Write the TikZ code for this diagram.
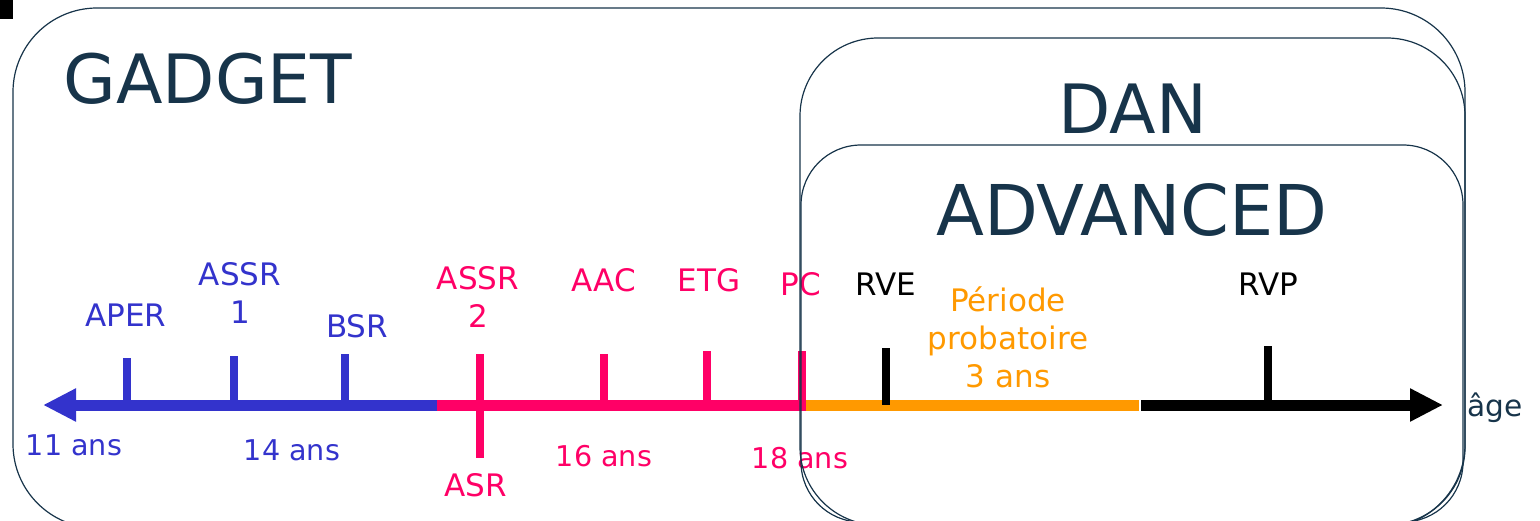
\documentclass[tikz,border=0pt]{standalone}
\usepackage{fontspec}
\setmainfont{DejaVu Sans}
\usetikzlibrary{arrows.meta}
\definecolor{gadgetblue}{HTML}{3333CC}
\definecolor{gadgetpink}{HTML}{FF0066}
\definecolor{gadgetorange}{HTML}{FF9900}
\definecolor{gadgetnavy}{HTML}{17344A}
\tikzset{agetip/.tip={Triangle[length=16.5pt, width=15.5pt]}}

\begin{document}
\begin{tikzpicture}[x=0.5pt, y=-0.5pt,
    box/.style={draw=gadgetnavy, line width=0.6pt, rounded corners=#1},
    title/.style={text=gadgetnavy, inner sep=0pt, font=\fontsize{#1}{40}\selectfont},
    title/.default=34,
    lbl/.style={text=#1, inner sep=0pt, align=center, font=\fontsize{15.5}{19}\selectfont},
    agelbl/.style={text=#1, inner sep=0pt, font=\fontsize{14.3}{17}\selectfont},
    axis/.style={draw=#1, line width=5.5pt},
    tick/.style={draw=#1, line width=4pt}
  ]
  \useasboundingbox (0,0) rectangle (1540,520);
  \clip (0,0) rectangle (1540,520);

  % stray mark top left
  \fill (0,0) rectangle (13,19);

  % the age axis
  \coordinate (tipL) at (43,405);
  \coordinate (m1) at (437,405);
  \coordinate (m2) at (806,405);
  \coordinate (m3) at (1139,405);
  \coordinate (m4) at (1141,405);
  \coordinate (tipR) at (1443,405);
  \draw[axis=gadgetblue, {agetip}-] (tipL) -- (m1);
  \draw[axis=gadgetpink] (m1) -- (m2);
  \draw[axis=gadgetorange] (m2) -- (m3);
  \draw[axis=black, -{agetip}] (m4) -- (tipR);

  % ticks
  \coordinate (aper-t) at (127,358);
  \coordinate (assr1-t) at (234,356);
  \coordinate (bsr-t) at (345,354);
  \coordinate (assr2-t) at (480,354);
  \coordinate (asr-b) at (480,458);
  \coordinate (aac-t) at (604,354);
  \coordinate (etg-t) at (707,351);
  \coordinate (pc-t) at (802,351);
  \coordinate (rve-t) at (886,348);
  \coordinate (rvp-t) at (1268,346);
  \draw[tick=gadgetblue] (aper-t) -- (aper-t |- m1);
  \draw[tick=gadgetblue] (assr1-t) -- (assr1-t |- m1);
  \draw[tick=gadgetblue] (bsr-t) -- (bsr-t |- m1);
  \draw[tick=gadgetpink] (assr2-t) -- (asr-b);
  \draw[tick=gadgetpink] (aac-t) -- (aac-t |- m1);
  \draw[tick=gadgetpink] (etg-t) -- (etg-t |- m1);
  \draw[tick=gadgetpink] (pc-t) -- (pc-t |- m1);
  \draw[tick=black] (rve-t) -- (rve-t |- m1);
  \draw[tick=black] (rvp-t) -- (rvp-t |- m1);

  % labels above the axis
  \node[lbl=gadgetblue] (aper) at (126,315) {APER};
  \node[lbl=gadgetblue] (assr1) at (240,293) {ASSR\\1};
  \node[lbl=gadgetblue] (bsr) at (357,326) {BSR};
  \node[lbl=gadgetpink] (assr2) at (478,297) {ASSR\\2};
  \node[lbl=gadgetpink] (aac) at (604,280) {AAC};
  \node[lbl=gadgetpink] (etg) at (709,280) {ETG};
  \node[lbl=gadgetpink] (pc) at (801,284) {PC};
  \node[lbl=black] (rve) at (886,284) {RVE};
  \node[lbl=gadgetorange] (probation) at (1008,337) {Période\\probatoire\\3 ans};
  \node[lbl=black] (rvp) at (1268,284) {RVP};

  % labels under the axis
  \node[agelbl=gadgetblue] (age11) at (74,445) {11 ans};
  \node[agelbl=gadgetblue] (age14) at (292,450) {14 ans};
  \node[lbl=gadgetpink] (asr) at (476,485) {ASR};
  \node[agelbl=gadgetpink] (age16) at (604,456) {16 ans};
  \node[agelbl=gadgetpink] (age18) at (800,458) {18 ans};
  \node[text=gadgetnavy, inner sep=0pt, font=\fontsize{14.8}{17}\selectfont] (age) at (1495,408) {âge};

  % the three frames
  \draw[box=42pt] (13,8) rectangle (1465,528);
  \draw[box=39pt] (800,38) rectangle (1465,525);
  \draw[box=30pt] (801,145) rectangle (1463,522);
  \node[title] (gadget) at (208,79) {GADGET};
  \node[title] (dan) at (1133,109) {DAN};
  \node[title=35] (advanced) at (1132,210) {ADVANCED};
\end{tikzpicture}
\end{document}
